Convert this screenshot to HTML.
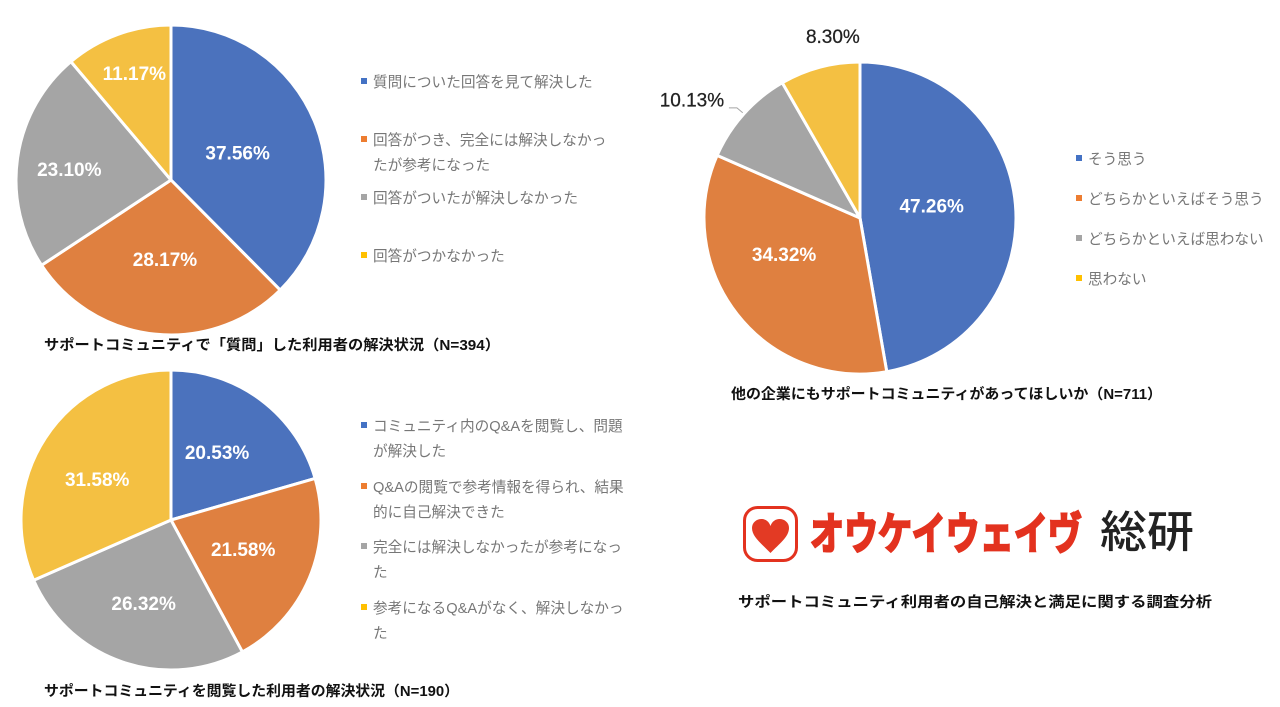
<!DOCTYPE html>
<html lang="ja">
<head>
<meta charset="utf-8">
<title>サポートコミュニティ利用者の自己解決と満足に関する調査分析</title>
<style>
html,body{margin:0;padding:0;background:#fff;width:1280px;height:707px;overflow:hidden}
svg{display:block}
text{font-family:"Liberation Sans","Noto Sans CJK JP",sans-serif}
.leg{font-size:14.65px;fill:#777;dominant-baseline:central;transform:translateY(2px)}
.ttl{font-size:14.5px;font-weight:700;fill:#111;dominant-baseline:central;transform:translateY(2px)}
.val{font-size:19px;font-weight:700;text-anchor:middle;dominant-baseline:central;transform:translateY(1.5px)}
.out{font-size:19px;fill:#222;stroke:#222;stroke-width:.25px;text-anchor:middle;dominant-baseline:central;transform:translateY(1px)}
</style>
</head>
<body>
<svg id="canvas" xmlns="http://www.w3.org/2000/svg" width="1280" height="707" viewBox="0 0 1280 707">
  <g id="pie-question"></g>
  <g id="pie-browse"></g>
  <g id="pie-other"></g>

  <g>
    <rect x="361" y="78" width="6" height="6" fill="#4472c4"/>
    <text class="leg" x="373" y="81">質問についた回答を見て解決した</text>
    <rect x="361" y="136" width="6" height="6" fill="#ed7d31"/>
    <text class="leg" x="373" y="139">回答がつき、完全には解決しなかっ</text>
    <text class="leg" x="373" y="164">たが参考になった</text>
    <rect x="361" y="194" width="6" height="6" fill="#a5a5a5"/>
    <text class="leg" x="373" y="197">回答がついたが解決しなかった</text>
    <rect x="361" y="252" width="6" height="6" fill="#ffc000"/>
    <text class="leg" x="373" y="255">回答がつかなかった</text>
  </g>

  <g>
    <rect x="361" y="422" width="6" height="6" fill="#4472c4"/>
    <text class="leg" x="373" y="425">コミュニティ内のQ&amp;Aを閲覧し、問題</text>
    <text class="leg" x="373" y="450">が解決した</text>
    <rect x="361" y="483" width="6" height="6" fill="#ed7d31"/>
    <text class="leg" x="373" y="486">Q&amp;Aの閲覧で参考情報を得られ、結果</text>
    <text class="leg" x="373" y="511">的に自己解決できた</text>
    <rect x="361" y="543" width="6" height="6" fill="#a5a5a5"/>
    <text class="leg" x="373" y="546">完全には解決しなかったが参考になっ</text>
    <text class="leg" x="373" y="571">た</text>
    <rect x="361" y="604" width="6" height="6" fill="#ffc000"/>
    <text class="leg" x="373" y="607">参考になるQ&amp;Aがなく、解決しなかっ</text>
    <text class="leg" x="373" y="632">た</text>
  </g>

  <g>
    <rect x="1076" y="155" width="6" height="6" fill="#4472c4"/>
    <text class="leg" x="1088" y="158">そう思う</text>
    <rect x="1076" y="195" width="6" height="6" fill="#ed7d31"/>
    <text class="leg" x="1088" y="198">どちらかといえばそう思う</text>
    <rect x="1076" y="235" width="6" height="6" fill="#a5a5a5"/>
    <text class="leg" x="1088" y="238">どちらかといえば思わない</text>
    <rect x="1076" y="275" width="6" height="6" fill="#ffc000"/>
    <text class="leg" x="1088" y="278">思わない</text>
  </g>

  <text class="ttl" x="44" y="344" textLength="456" lengthAdjust="spacingAndGlyphs">サポートコミュニティで「質問」した利用者の解決状況（N=394）</text>
  <text class="ttl" x="44" y="690" textLength="415" lengthAdjust="spacingAndGlyphs">サポートコミュニティを閲覧した利用者の解決状況（N=190）</text>
  <text class="ttl" x="731" y="393" textLength="431" lengthAdjust="spacingAndGlyphs">他の企業にもサポートコミュニティがあってほしいか（N=711）</text>

  <g>
    <rect x="744.5" y="507.5" width="52" height="53" rx="13" fill="#fff" stroke="#e3321f" stroke-width="3"/>
    <path d="M770.5 553 C762 544 752 537 752 528 C752 522.5 756.5 519 761.5 519 C765.5 519 769 521.5 770.5 526 C772 521.5 775.5 519 779.500 519 C784.5 519 789 522.5 789 528 C789 537 779 544 770.5 553 Z" fill="#e33a24"/>
    <text x="810" y="549" font-size="44" font-weight="700" fill="#e3321f" stroke="#e3321f" stroke-width="2.2" textLength="272" lengthAdjust="spacingAndGlyphs">オウケイウェイヴ</text>
    <text x="1100" y="547" font-size="44" font-weight="500" fill="#222" textLength="94" lengthAdjust="spacingAndGlyphs">総研</text>
  </g>
  <text class="ttl" x="738" y="601" textLength="474" lengthAdjust="spacingAndGlyphs">サポートコミュニティ利用者の自己解決と満足に関する調査分析</text>
</svg>

<script>
// Chart data
const questionValues = [37.56, 28.17, 23.10, 11.17];
const browseValues = [20.53, 21.58, 26.32, 31.58];
const otherValues = [47.26, 34.32, 10.13, 8.30];
const questionCategories = ['answered-solved', 'partly-helpful', 'not-solved', 'no-answer'];
const browseCategories = ['browse-solved', 'browse-self-solved', 'browse-helpful', 'browse-unhelpful'];
const otherCategories = ['agree', 'somewhat-agree', 'somewhat-disagree', 'disagree'];

// Styling and layout (kept apart from the data)
const sliceColors = ['#4b72bd', '#df8040', '#a5a5a5', '#f4c042'];
const questionNudges = [[-5, 2], [2, 2], [-25, 0], [-10, -34]];
const browseNudges = [[1, -8], [3, 0], [-3, 12], [-11, 0]];
const otherNudges = [[-6, -6], [-14.5, -12], [-110, -66], [-7, -106]];
const SVG_NS = 'http://www.w3.org/2000/svg';

function polar(cx, cy, r, fraction) {
  const a = fraction * 2 * Math.PI;
  return [cx + r * Math.sin(a), cy - r * Math.cos(a)];
}

function drawPie(groupId, values, categories, cx, cy, r, nudges, outsideFrom) {
  const group = document.getElementById(groupId);
  const total = values.reduce(function (s, v) { return s + v; }, 0);
  let cumulative = 0;
  const labelLayer = [];
  values.forEach(function (value, i) {
    const start = cumulative / total;
    const end = (cumulative + value) / total;
    cumulative += value;
    const mid = (start + end) / 2;
    const p0 = polar(cx, cy, r, start);
    const p1 = polar(cx, cy, r, end);
    const large = end - start > 0.5 ? 1 : 0;
    const slice = document.createElementNS(SVG_NS, 'path');
    slice.setAttribute('d', 'M' + cx + ' ' + cy + ' L' + p0[0] + ' ' + p0[1] + ' A' + r + ' ' + r + ' 0 ' + large + ' 1 ' + p1[0] + ' ' + p1[1] + ' Z');
    slice.setAttribute('fill', sliceColors[i]);
    slice.setAttribute('stroke', '#fff');
    slice.setAttribute('stroke-width', '3');
    slice.setAttribute('stroke-linejoin', 'round');
    
    
    group.appendChild(slice);

    const anchor = polar(cx, cy, r * 0.5, mid);
    const lx = anchor[0] + nudges[i][0];
    const ly = anchor[1] + nudges[i][1];
    const label = document.createElementNS(SVG_NS, 'text');
    label.setAttribute('x', lx);
    label.setAttribute('y', ly);
    const outside = i >= outsideFrom;
    label.setAttribute('class', outside ? 'out' : 'val');
    if (!outside) label.setAttribute('fill', '#fff');
    
    
    label.textContent = value.toFixed(2) + '%';
    labelLayer.push(label);

    if (categories[i] === 'somewhat-disagree') {
      const tip = polar(cx, cy, r * 1.01, mid);
      const leader = document.createElementNS(SVG_NS, 'polyline');
      leader.setAttribute('points', (lx + 37) + ',' + (ly + 8) + ' ' + (lx + 45) + ',' + (ly + 8) + ' ' + tip[0] + ',' + tip[1]);
      leader.setAttribute('fill', 'none');
      leader.setAttribute('stroke', '#a5a5a5');
      leader.setAttribute('stroke-width', '1');
      
      
      labelLayer.push(leader);
    }
  });
  labelLayer.forEach(function (n) { group.appendChild(n); });
}

drawPie('pie-question', questionValues, questionCategories, 171, 180, 155, questionNudges, 99);
drawPie('pie-browse', browseValues, browseCategories, 171, 520, 150, browseNudges, 99);
drawPie('pie-other', otherValues, otherCategories, 860, 218, 156, otherNudges, 2);
</script>
</body>
</html>
